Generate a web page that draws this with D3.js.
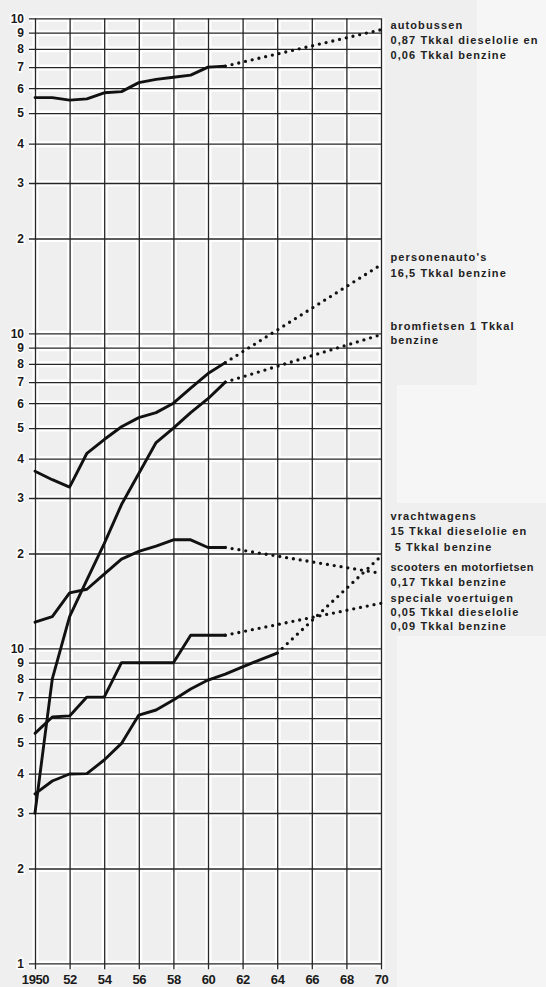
<!DOCTYPE html>
<html>
<head>
<meta charset="utf-8">
<script src="https://cdn.jsdelivr.net/npm/d3@7"></script>
<style>
  body { margin: 0; background: #efefef; }
  svg { display: block; }
</style>
</head>
<body>
<svg></svg>
<script>
// jaren met waarnemingen (doorgetrokken lijn)
const years = [1950, 1951, 1952, 1953, 1954, 1955, 1956, 1957, 1958, 1959, 1960, 1961];
const yearsSpeciaal = [1950, 1951, 1952, 1953, 1954, 1955, 1956, 1957, 1958, 1959, 1960, 1961, 1962, 1963, 1964];

// waarden in grafiekeenheden (log-as 1..1000, drie decaden)
const autobussen    = [560, 560, 550, 555, 580, 585, 625, 640, 650, 660, 700, 705];
const personenautos = [36.5, 34.3, 32.5, 41.6, 46, 50.5, 54, 56, 60, 67, 74.5, 80.7];
const bromfietsen   = [3.0, 8.0, 12.6, 16.5, 21.5, 28.6, 35.9, 45, 50, 56, 62, 70];
const vrachtwagens  = [12.1, 12.6, 15.0, 15.4, 17.2, 19.2, 20.3, 21.1, 22.1, 22.1, 20.9, 20.9];
const scooters      = [5.37, 6.05, 6.1, 7.0, 7.0, 9.0, 9.0, 9.0, 9.0, 11.0, 11.0, 11.0];
const speciale      = [3.45, 3.79, 3.99, 4.0, 4.42, 4.99, 6.14, 6.37, 6.85, 7.43, 7.93, 8.28, 8.73, 9.19, 9.66];

// prognose tot 1970 (gestippeld): [jaar, waarde]
const autobussenProj    = [[1961, 705], [1970, 920]];
const personenautosProj = [[1961, 80.7], [1970, 165]];
const bromfietsenProj   = [[1961, 70], [1970, 99]];
const vrachtwagensProj  = [[1961, 20.9], [1970, 17.3]];
const scootersProj      = [[1961, 11.0], [1970, 13.9]];
const specialeProj      = [[1964, 9.66], [1970, 19.6]];

// as-indeling
const xTicks = [1950, 1952, 1954, 1956, 1958, 1960, 1962, 1964, 1966, 1968, 1970];
const xTickLabels = ["1950", "52", "54", "56", "58", "60", "62", "64", "66", "68", "70"];
const yTicks = [1, 2, 3, 4, 5, 6, 7, 8, 9,
                10, 20, 30, 40, 50, 60, 70, 80, 90,
                100, 200, 300, 400, 500, 600, 700, 800, 900, 1000];
const yTickLabels = ["1", "2", "3", "4", "5", "6", "7", "8", "9",
                     "10", "2", "3", "4", "5", "6", "7", "8", "9",
                     "10", "2", "3", "4", "5", "6", "7", "8", "9", "10"];

const labels = [
    ["autobussen", "0,87 Tkkal dieselolie en", "0,06 Tkkal benzine"],
    ["personenauto's", "16,5 Tkkal benzine"],
    ["bromfietsen 1 Tkkal", "benzine"],
    ["vrachtwagens", "15 Tkkal dieselolie en", " 5 Tkkal benzine"],
    ["scooters en motorfietsen", "0,17 Tkkal benzine"],
    ["speciale voertuigen", "0,05 Tkkal dieselolie", "0,09 Tkkal benzine"]
];

const width = 546;
const height = 987;
const margin = ({top: 18.3, right: 165, bottom: 23.7, left: 35});

const x = d3.scaleLinear()
    .domain([1950, 1970])
    .range([margin.left, width - margin.right]);

const y = d3.scaleLog()
    .domain([1, 1000])
    .range([height - margin.bottom, margin.top]);

const svg = d3.select("svg")
    .attr("width", width)
    .attr("height", height)
    .attr("viewBox", [0, 0, width, height])
    .style("font-family", "'Liberation Sans', Arial, sans-serif");

svg.append("rect").attr("width", width).attr("height", height).attr("fill", "#efefef");
// lichtere vlakken rechts (scan)
svg.append("rect").attr("x", 477).attr("y", 0).attr("width", 69).attr("height", 385).attr("fill", "#f6f6f6");
svg.append("rect").attr("x", 397).attr("y", 385).attr("width", 149).attr("height", 118).attr("fill", "#f6f6f6");
svg.append("rect").attr("x", 397).attr("y", 636).attr("width", 149).attr("height", 351).attr("fill", "#f5f5f5");

const xGrid = (g, stroke, sw) => g
    .attr("transform", `translate(0,${margin.top})`)
    .call(d3.axisBottom(x).tickValues(xTicks)
        .tickFormat((d, i) => xTickLabels[i])
        .tickSize(y(1) - margin.top + 6).tickPadding(5))
    .call(g => g.select(".domain").remove())
    .call(g => g.selectAll(".tick line").attr("stroke", stroke).attr("stroke-width", sw));

const yGrid = (g, stroke, sw) => g
    .attr("transform", `translate(${x(1970)},0)`)
    .call(d3.axisLeft(y).tickValues(yTicks)
        .tickFormat((d, i) => yTickLabels[i])
        .tickSize(x(1970) - 29).tickPadding(5))
    .call(g => g.select(".domain").remove())
    .call(g => g.selectAll(".tick line").attr("stroke", stroke).attr("stroke-width", sw));

// witte randen rond de rasterlijnen
svg.append("g").call(xGrid, "#fff", 6).call(g => g.selectAll("text").remove());
svg.append("g").call(yGrid, "#fff", 6).call(g => g.selectAll("text").remove());

const gx = svg.append("g").call(xGrid, "#262626", 1.3);
gx.selectAll("text")
    .attr("font-size", 13)
    .attr("font-weight", "bold")
    .attr("fill", "#1a1a1a")
    .attr("letter-spacing", -0.4);

const gy = svg.append("g").call(yGrid, "#262626", 1.3);
gy.selectAll("text")
    .attr("font-size", 12)
    .attr("font-weight", "bold")
    .attr("fill", "#1a1a1a")
    .attr("stroke", "#fff")
    .attr("stroke-width", 3)
    .attr("paint-order", "stroke");

const line = d3.line()
    .x(d => x(d[0]))
    .y(d => y(d[1]));

const solid = [
    d3.zip(years, autobussen),
    d3.zip(years, personenautos),
    d3.zip(years, bromfietsen),
    d3.zip(years, vrachtwagens),
    d3.zip(years, scooters),
    d3.zip(yearsSpeciaal, speciale)
];
const dotted = [autobussenProj, personenautosProj, bromfietsenProj,
                vrachtwagensProj, scootersProj, specialeProj];

svg.append("g")
    .attr("fill", "none")
    .attr("stroke", "#111")
    .attr("stroke-width", 2.9)
    .attr("stroke-linejoin", "round")
    .attr("stroke-linecap", "round")
  .selectAll("path")
  .data(solid)
  .join("path")
    .attr("d", line);

svg.append("g")
    .attr("fill", "none")
    .attr("stroke", "#111")
    .attr("stroke-width", 3.3)
    .attr("stroke-linecap", "round")
    .attr("stroke-dasharray", "0 6.9")
  .selectAll("path")
  .data(dotted)
  .join("path")
    .attr("d", line);

// toelichting rechts
const labelTop = [29, 260.5, 330, 519.5, 570.5, 602];
const lineGap = [15, 16.5, 14, 15.5, 15.5, 14];

labels.forEach((lines, i) => {
    const t = svg.append("text")
        .attr("x", 390.5)
        .attr("y", labelTop[i])
        .attr("font-size", 11)
        .attr("font-weight", "bold")
        .attr("fill", "#222")
        .attr("xml:space", "preserve")
        .style("white-space", "pre");
    lines.forEach((s, j) => {
        t.append("tspan")
            .attr("x", 390.5)
            .attr("dy", j === 0 ? 0 : lineGap[i])
            .attr("letter-spacing", s.length > 22 && i === 4 ? 0.5 : 1.1)
            .text(s);
    });
});
</script>
</body>
</html>
